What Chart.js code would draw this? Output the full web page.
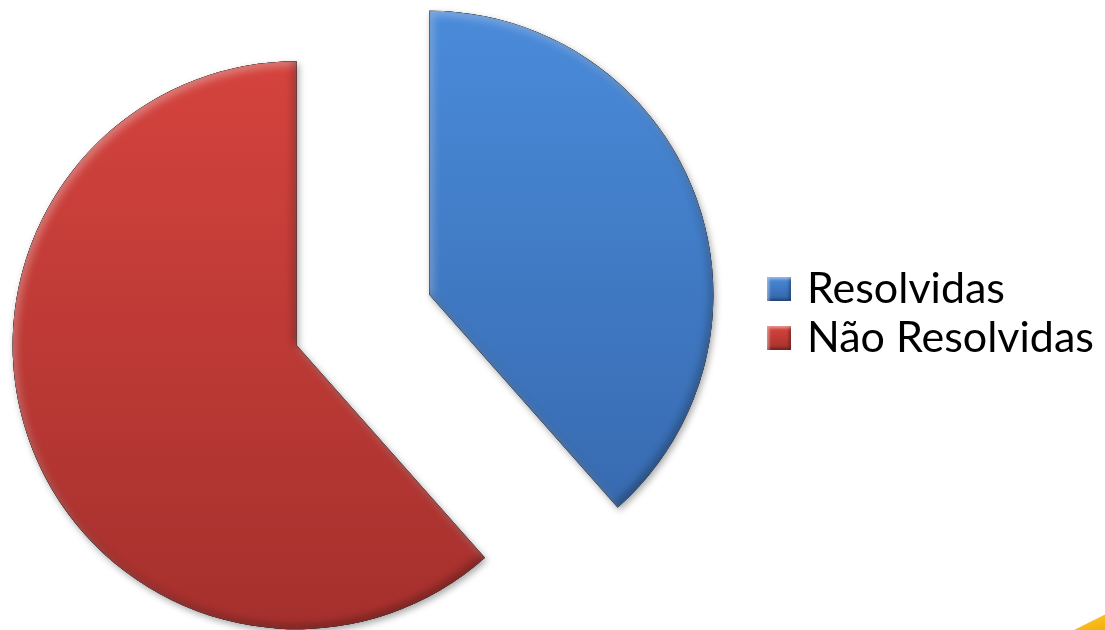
<!DOCTYPE html>
<html>
<head>
<meta charset="utf-8">
<script src="https://cdn.jsdelivr.net/npm/chart.js@4.4.0/dist/chart.umd.min.js"></script>
<style>
  html, body { margin: 0; padding: 0; background: #fff; }
  #wrap { position: relative; width: 1105px; height: 630px; overflow: hidden; }
  #legend { position: absolute; left: 767px; top: 262px; font-family: Lato, sans-serif; font-size: 43px; color: #000; }
  .item { display: flex; align-items: center; height: 49px; }
  .box { width: 24px; height: 24px; margin-right: 16px; margin-top: 5px; box-shadow: inset 2px 2px 3px rgba(255,255,255,0.45), inset -2px -2px 3px rgba(0,0,0,0.35); }
  #corner { position: absolute; left: 1070px; top: 612px; width: 40px; height: 20px; background: linear-gradient(160deg, #ffd040, #f2a900); clip-path: polygon(100% 0, 100% 100%, 0 100%); }
</style>
</head>
<body>
<div id="wrap">
  <canvas id="pie" width="1105" height="630"></canvas>
  <div id="legend"></div>
  <div id="corner"></div>
</div>
<script>
// slices, clockwise from 12 o'clock
const labels = ['Resolvidas', 'Não Resolvidas'];
const values = [5, 8];
const topColors = ['#4a8bda', '#d9453f'];
const bottomColors = ['#3363a6', '#a5302d'];

const explode = 71;   // px each slice is pushed out

function sliceFill(c) {
  const i = c.dataIndex;
  const area = c.chart.chartArea;
  if (!area) return topColors[i];
  const g = c.chart.ctx.createLinearGradient(0, area.top, 0, area.bottom);
  g.addColorStop(0, topColors[i]);
  g.addColorStop(1, bottomColors[i]);
  return g;
}

// push every arc out along its middle angle
const explodePlugin = {
  id: 'explode',
  afterDatasetUpdate(chart, args) {
    for (const arc of args.meta.data) {
      const mid = (arc.startAngle + arc.endAngle) / 2;
      arc.x += Math.cos(mid) * explode;
      arc.y += Math.sin(mid) * explode;
    }
  }
};

// soft drop shadow under the slices, bevelled edges on top
const bevelPlugin = {
  id: 'bevel',
  beforeDatasetsDraw(chart) {
    const ctx = chart.ctx;
    ctx.save();
    ctx.shadowColor = 'rgba(0,0,0,0.35)';
    ctx.shadowBlur = 7;
    ctx.shadowOffsetX = 2;
    ctx.shadowOffsetY = 3;
  },
  afterDatasetsDraw(chart) {
    const ctx = chart.ctx;
    ctx.restore();
    for (const arc of chart.getDatasetMeta(0).data) {
      const {x, y, startAngle, endAngle, outerRadius} = arc;
      const shape = new Path2D();
      shape.moveTo(x, y);
      shape.arc(x, y, outerRadius, startAngle, endAngle);
      shape.closePath();
      const outside = new Path2D();
      outside.rect(-3000, -3000, 7000, 7000);
      outside.addPath(shape);

      ctx.save();
      ctx.clip(shape);
      ctx.fillStyle = '#000';
      ctx.shadowBlur = 9;
      ctx.shadowColor = 'rgba(255,255,255,0.35)';
      ctx.shadowOffsetX = 3;
      ctx.shadowOffsetY = 4;
      ctx.fill(outside, 'evenodd');
      ctx.shadowColor = 'rgba(0,0,0,0.3)';
      ctx.shadowOffsetX = -3;
      ctx.shadowOffsetY = -4;
      ctx.fill(outside, 'evenodd');
      ctx.restore();
    }
  }
};

const chart = new Chart(document.getElementById('pie'), {
  type: 'pie',
  data: {
    labels: labels,
    datasets: [{
      data: values,
      backgroundColor: sliceFill,
      borderWidth: 0,
      radius: 284
    }]
  },
  options: {
    responsive: false,
    animation: false,
    layout: { padding: { left: 0, right: 379, top: 10, bottom: 0 } },
    plugins: {
      legend: { display: false },
      tooltip: { enabled: false }
    }
  },
  plugins: [explodePlugin, bevelPlugin]
});

// legend next to the pie
const legend = document.getElementById('legend');
labels.forEach((l, i) => {
  const row = document.createElement('div');
  row.className = 'item';
  const box = document.createElement('span');
  box.className = 'box';
  box.style.background = 'linear-gradient(' + topColors[i] + ', ' + bottomColors[i] + ')';
  const txt = document.createElement('span');
  txt.textContent = l;
  row.appendChild(box);
  row.appendChild(txt);
  legend.appendChild(row);
});
</script>
</body>
</html>
